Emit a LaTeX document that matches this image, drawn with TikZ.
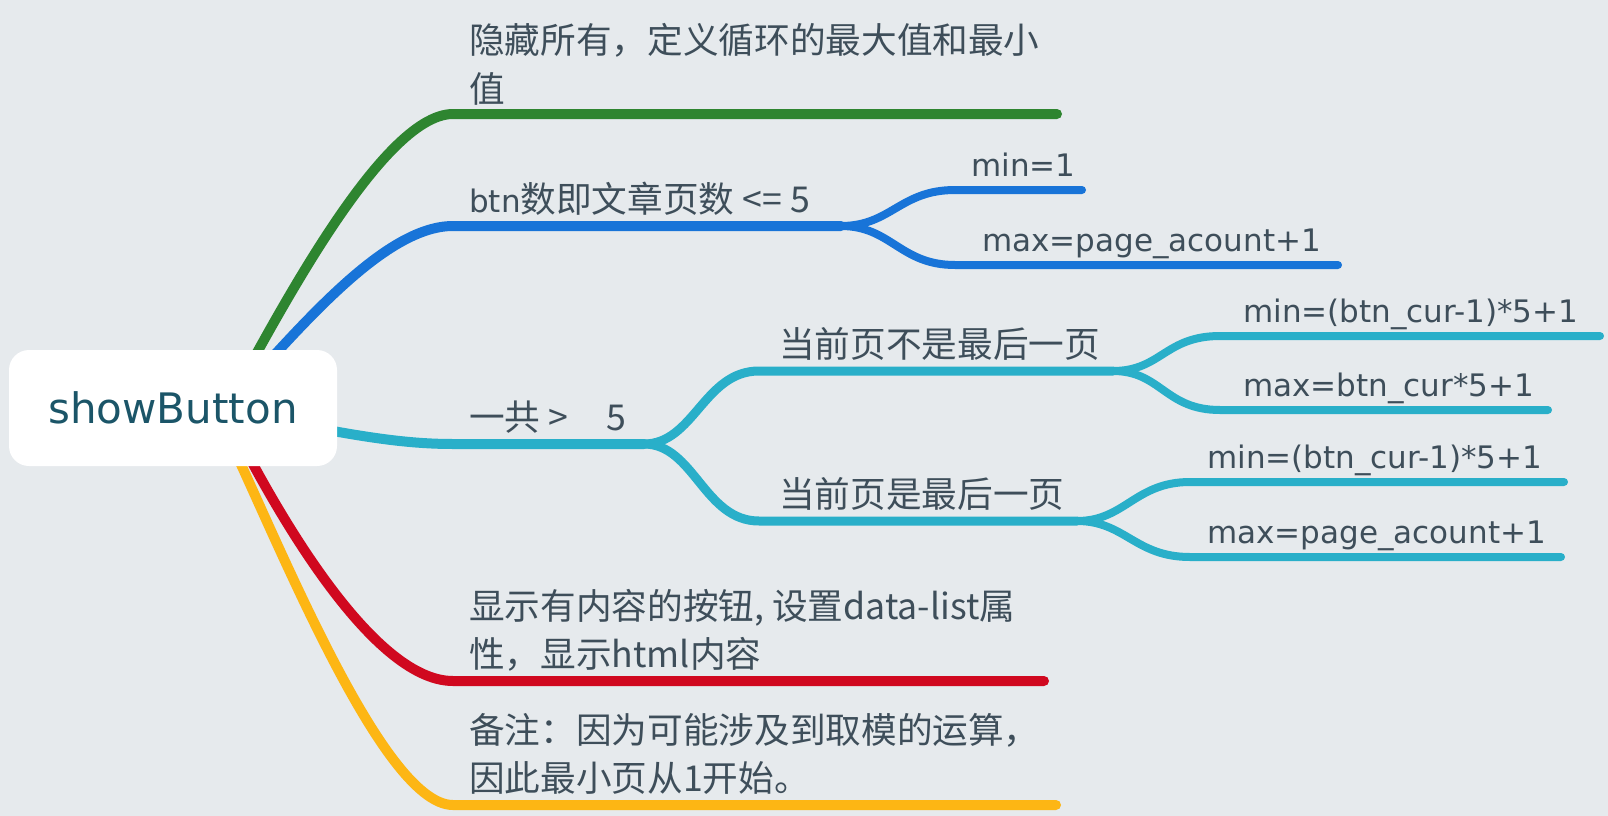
\documentclass[tikz,border=0pt]{standalone}
\usepackage{fontspec}
\setmainfont{DejaVu Sans}
\newfontfamily\cjk[Scale=1.15]{Noto Sans CJK SC}
\usetikzlibrary{positioning}

\definecolor{paper}{RGB}{230,234,237}
\definecolor{ink}{RGB}{62,78,90}
\definecolor{rootink}{RGB}{27,85,104}
\definecolor{hidegreen}{RGB}{46,133,48}
\definecolor{cntblue}{RGB}{24,116,216}
\definecolor{pagecyan}{RGB}{41,175,201}
\definecolor{showred}{RGB}{208,8,31}
\definecolor{noteyellow}{RGB}{253,182,20}

\tikzset{
  branch/.style={line width=10pt, line cap=round},
  twig/.style={line width=8pt, line cap=round},
  txt/.style={anchor=base west, inner sep=0pt, text=ink, font=\fontsize{31}{40}\selectfont},
  rootbox/.style={fill=white, rounded corners=20pt, minimum width=328pt, minimum height=116pt,
    inner sep=0pt, text=rootink, font=\fontsize{42}{50}\selectfont},
}

\begin{document}
\begin{tikzpicture}[x=1pt,y=-1pt]
  \useasboundingbox[fill=paper] (0,0) rectangle (1608,816);

  % where the branches leave the root
  \coordinate (r-hide) at (220,420);
  \coordinate (r-cnt) at (215,420);
  \coordinate (r-page) at (250,415);
  \coordinate (r-show) at (230,420);
  \coordinate (r-note) at (220,420);

  % main branches
  \coordinate (hide) at (453,114);   \coordinate (hide-e) at (1057,114);
  \coordinate (cnt) at (453,226);    \coordinate (cnt-e) at (841,226);
  \coordinate (page) at (453,444);   \coordinate (page-e) at (644,444);
  \coordinate (show) at (453,681);   \coordinate (show-e) at (1044,681);
  \coordinate (note) at (453,805);   \coordinate (note-e) at (1056,805);

  \draw[branch,hidegreen] (r-hide) .. controls +(50,-90) and +(-73,0) .. (hide) -- (hide-e);
  \draw[branch,cntblue] (r-cnt) .. controls +(75,-80) and +(-73,0) .. (cnt) -- (cnt-e);
  \draw[branch,pagecyan] (r-page) .. controls +(100,20) and +(-53,0) .. (page) -- (page-e);
  \draw[branch,showred] (r-show) .. controls +(40,80) and +(-83,0) .. (show) -- (show-e);
  \draw[branch,noteyellow] (r-note) .. controls +(50,100) and +(-73,0) .. (note) -- (note-e);

  % btn count <= 5
  \coordinate (cnt-min) at (955,190);  \coordinate (cnt-min-e) at (1082,190);
  \coordinate (cnt-max) at (955,265);  \coordinate (cnt-max-e) at (1338,265);
  \draw[twig,cntblue] (cnt-e) .. controls +(50,0) and +(-55,0) .. (cnt-min) -- (cnt-min-e);
  \draw[twig,cntblue] (cnt-e) .. controls +(50,0) and +(-55,0) .. (cnt-max) -- (cnt-max-e);

  % more than 5
  \coordinate (notlast) at (759,371);  \coordinate (notlast-e) at (1113,371);
  \coordinate (last) at (759,521);     \coordinate (last-e) at (1077,521);
  \draw[branch,line width=9pt,pagecyan] (page-e) .. controls +(50,0) and +(-55,0) .. (notlast) -- (notlast-e);
  \draw[branch,line width=9pt,pagecyan] (page-e) .. controls +(50,0) and +(-55,0) .. (last) -- (last-e);

  \coordinate (nl-min) at (1220,336);  \coordinate (nl-min-e) at (1600,336);
  \coordinate (nl-max) at (1220,410);  \coordinate (nl-max-e) at (1548,410);
  \coordinate (l-min) at (1190,482);   \coordinate (l-min-e) at (1564,482);
  \coordinate (l-max) at (1190,557);   \coordinate (l-max-e) at (1561,557);
  \draw[twig,pagecyan] (notlast-e) .. controls +(48,0) and +(-55,0) .. (nl-min) -- (nl-min-e);
  \draw[twig,pagecyan] (notlast-e) .. controls +(48,0) and +(-55,0) .. (nl-max) -- (nl-max-e);
  \draw[twig,pagecyan] (last-e) .. controls +(48,0) and +(-55,0) .. (l-min) -- (l-min-e);
  \draw[twig,pagecyan] (last-e) .. controls +(48,0) and +(-55,0) .. (l-max) -- (l-max-e);

  % root on top
  \node[rootbox] (root) at (173,408) {showButton};

  % texts
  \node[txt] (hide1) at (469,54) {\cjk{隐藏所有，定义循环的最大值和最小}};
  \node[txt] (hide2) at (469,102) {\cjk{值}};
  \node[txt] (cnt-t) at (469,212) {btn\cjk{数即文章页数} <= 5};
  \node[txt] (cnt-min-t) at (971,176) {min=1};
  \node[txt] (cnt-max-t) at (982,251) {max=page\_acount+1};
  \node[txt] (page-t) at (469,430) {\cjk{一共} >\hspace{30pt} 5};
  \node[txt] (notlast-t) at (779,357) {\cjk{当前页不是最后一页}};
  \node[txt] (nl-min-t) at (1243,322) {min=(btn\_cur-1)*5+1};
  \node[txt] (nl-max-t) at (1243,396) {max=btn\_cur*5+1};
  \node[txt] (last-t) at (779,507) {\cjk{当前页是最后一页}};
  \node[txt] (l-min-t) at (1207,468) {min=(btn\_cur-1)*5+1};
  \node[txt] (l-max-t) at (1207,543) {max=page\_acount+1};
  \node[txt] (show1) at (469,619) {\cjk{显示有内容的按钮}, \cjk{设置}data-list\cjk{属}};
  \node[txt] (show2) at (469,667) {\cjk{性，显示}html\cjk{内容}};
  \node[txt] (note1) at (469,743) {\cjk{备注：因为可能涉及到取模的运算，}};
  \node[txt] (note2) at (469,791) {\cjk{因此最小页从}1\cjk{开始。}};
\end{tikzpicture}
\end{document}
